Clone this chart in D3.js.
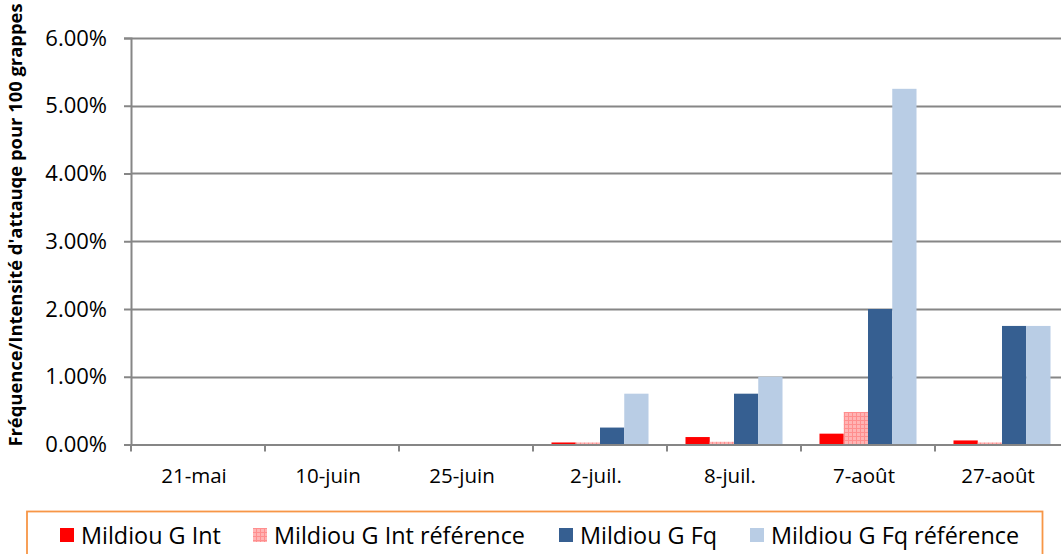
<!DOCTYPE html>
<html>
<head>
<meta charset="utf-8">
<script src="https://cdn.jsdelivr.net/npm/d3@7"></script>
<style>
  html, body { margin: 0; padding: 0; background: #fff; }
  svg { display: block; }
  text { font-family: "Open Sans", "Liberation Sans", sans-serif; fill: #000; }
</style>
</head>
<body>
<svg id="chart" width="1061" height="554"></svg>
<script>
// ---- data ----
const categories = ["21-mai", "10-juin", "25-juin", "2-juil.", "8-juil.", "7-août", "27-août"];
const seriesNames = ["Mildiou G Int", "Mildiou G Int référence", "Mildiou G Fq", "Mildiou G Fq référence"];
const intG    = [0, 0, 0, 0.0003, 0.0011, 0.0016, 0.0006];
const intRef  = [0, 0, 0, 0.0003, 0.0004, 0.0048, 0.0003];
const fqG     = [0, 0, 0, 0.0025, 0.0075, 0.0200, 0.0175];
const fqRef   = [0, 0, 0, 0.0075, 0.0100, 0.0525, 0.0175];
const yTicks  = [0, 0.01, 0.02, 0.03, 0.04, 0.05, 0.06];
const yTitle  = "Fréquence/Intensité d'attauqe pour 100 grappes";

const seriesValues = [intG, intRef, fqG, fqRef];
const fills = ["#FF0000", "url(#pinkCheck)", "#365F91", "#B9CDE5"];

const svg = d3.select("#chart");
const W = 1061, H = 554;

// pattern for the reference intensity series
const defs = svg.append("defs");
const pat = defs.append("pattern").attr("id", "pinkCheck")
  .attr("patternUnits", "userSpaceOnUse").attr("width", 4).attr("height", 4);
pat.append("rect").attr("width", 4).attr("height", 4).attr("fill", "#FFB4B4");
pat.append("rect").attr("x", 0).attr("y", 0).attr("width", 4).attr("height", 1).attr("fill", "#FF8E8E");
pat.append("rect").attr("x", 0).attr("y", 0).attr("width", 1).attr("height", 4).attr("fill", "#FF8E8E");

// scales
const x0 = 131, catW = 134;
const x = d3.scaleBand().domain(categories).range([x0, x0 + catW * categories.length]).padding(0);
const gap = x.bandwidth() * 0.276 / 2;
const xs = d3.scaleBand().domain(d3.range(seriesNames.length)).range([gap, x.bandwidth() - gap]).padding(0);
const y = d3.scaleLinear().domain([0, 0.06]).range([444.5, 38]);

const gridColor = "#868686";

// gridlines
svg.append("g").selectAll("line").data(yTicks.filter(d => d > 0)).join("line")
  .attr("x1", x0).attr("x2", W)
  .attr("y1", d => Math.round(y(d)) + 0.5).attr("y2", d => Math.round(y(d)) + 0.5)
  .attr("stroke", gridColor).attr("stroke-width", 2);

// bars
const gBars = svg.append("g");
seriesValues.forEach((vals, si) => {
  gBars.append("g").selectAll("rect").data(vals.map((v, i) => ({ v, c: categories[i] })))
    .join("rect")
    .attr("x", d => x(d.c) + xs(si))
    .attr("width", xs.bandwidth())
    .attr("y", d => y(d.v))
    .attr("height", d => y(0) - y(d.v))
    .attr("fill", fills[si]);
});

// y axis
const yAxis = d3.axisLeft(y).tickValues(yTicks).tickFormat(d3.format(".2%")).tickSize(7).tickPadding(17);
const gy = svg.append("g").attr("transform", `translate(${x0},0)`).call(yAxis);
gy.select(".domain").attr("stroke", gridColor).attr("stroke-width", 2);
gy.selectAll(".tick line").attr("stroke", gridColor).attr("stroke-width", 2);
gy.selectAll(".tick text").style("font-family", "'Open Sans', sans-serif").style("font-size", "22px").attr("fill", "#000");

// x axis
const xAxis = d3.axisBottom(x).tickSize(0).tickPadding(24);
const gx = svg.append("g").attr("transform", `translate(0,${y(0)})`).call(xAxis);
gx.select(".domain").attr("stroke", gridColor).attr("stroke-width", 2);
gx.selectAll(".tick text").style("font-family", "'Open Sans', sans-serif").style("font-size", "20.5px").attr("fill", "#000")
  .attr("dx", "-4px");
// category boundary tick marks
svg.append("g").selectAll("line").data(d3.range(categories.length + 1)).join("line")
  .attr("x1", i => x0 + i * catW).attr("x2", i => x0 + i * catW)
  .attr("y1", y(0)).attr("y2", y(0) + 7)
  .attr("stroke", gridColor).attr("stroke-width", 2);

// y title
svg.append("text")
  .attr("transform", "translate(22,225) rotate(-90)")
  .attr("text-anchor", "middle")
  .style("font-weight", "bold").style("font-size", "18.4px")
  .text(yTitle);

// legend
svg.append("rect").attr("x", 27).attr("y", 511.5).attr("width", 1015.5).attr("height", 60)
  .attr("fill", "#fff").attr("stroke", "#F79646").attr("stroke-width", 1.8);
const legX = [60, 253, 559, 750];
const leg = svg.append("g");
seriesNames.forEach((n, i) => {
  leg.append("rect").attr("x", legX[i]).attr("y", 528).attr("width", 14).attr("height", 14).attr("fill", fills[i]);
  leg.append("text").attr("x", legX[i] + 21).attr("y", 544).style("font-size", "23.4px").text(n);
});
</script>
</body>
</html>
